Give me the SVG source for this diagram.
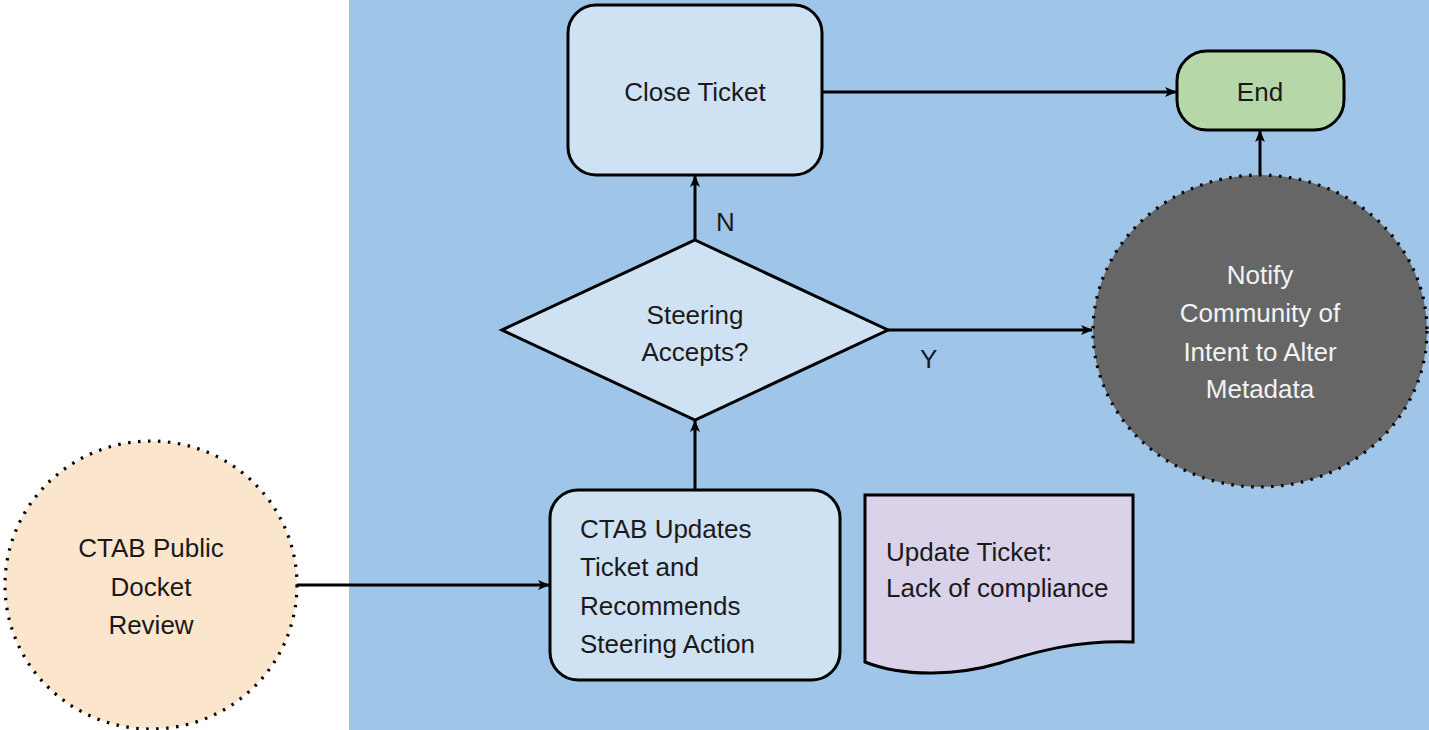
<svg xmlns="http://www.w3.org/2000/svg" width="1429" height="730" viewBox="0 0 1429 730">
<style>
.t{font-family:"Liberation Sans",Arial,sans-serif;font-size:26px;fill:#1a1a1a}
.c{text-anchor:middle}
.w{fill:#f3f3f3}
.box{fill:#cfe2f3;stroke:#000;stroke-width:3}
.dot{stroke:#000;stroke-width:3.2;stroke-dasharray:2.5 7.5;stroke-linecap:butt}
.edge{fill:none;stroke:#000;stroke-width:3;marker-end:url(#ah)}
</style>
<defs>
<marker id="ah" viewBox="0 0 12 10" refX="11" refY="5" markerWidth="12" markerHeight="10" markerUnits="userSpaceOnUse" orient="auto">
<path d="M0,0 L12,5 L0,10 L3,5 Z" fill="#000"/>
</marker>
</defs>
<rect x="0" y="0" width="1429" height="730" fill="#fff"/>
<rect x="349" y="0" width="1080" height="730" fill="#9fc5e8"/>
<g id="connectors">
<path class="edge" d="M297,585 H549"/>
<path class="edge" d="M695,490 V421"/>
<path class="edge" d="M695,240 V176"/>
<path class="edge" d="M822,92 H1176"/>
<path class="edge" d="M888,330 H1092"/>
<path class="edge" d="M1260,175 V131"/>
<text class="t" x="716" y="231" font-size="24">N</text>
<text class="t" x="920" y="368" font-size="24">Y</text>
</g>
<g id="docket">
<ellipse cx="151" cy="585" rx="146" ry="144" fill="#fce5cd" class="dot"/>
<text class="t c" x="151" y="557">CTAB Public</text>
<text class="t c" x="151" y="596">Docket</text>
<text class="t c" x="151" y="634">Review</text>
</g>
<g id="updates">
<rect class="box" x="550" y="490" width="290" height="190" rx="28"/>
<text class="t" x="580" y="538">CTAB Updates</text>
<text class="t" x="580" y="576">Ticket and</text>
<text class="t" x="580" y="615">Recommends</text>
<text class="t" x="580" y="653">Steering Action</text>
</g>
<g id="decision">
<polygon class="box" points="695,240 888,330 695,420 502,330"/>
<text class="t c" x="695" y="324">Steering</text>
<text class="t c" x="695" y="361">Accepts?</text>
</g>
<g id="close">
<rect class="box" x="568" y="5" width="254" height="170" rx="28"/>
<text class="t c" x="695" y="101">Close Ticket</text>
</g>
<g id="end">
<rect x="1177" y="51" width="167" height="79" rx="30" fill="#b6d7a8" stroke="#000" stroke-width="3"/>
<text class="t c" x="1260" y="101">End</text>
</g>
<g id="notify">
<ellipse cx="1260" cy="331" rx="167" ry="156" fill="#666666" class="dot"/>
<text class="t c w" x="1260" y="284">Notify</text>
<text class="t c w" x="1260" y="322">Community of</text>
<text class="t c w" x="1260" y="361">Intent to Alter</text>
<text class="t c w" x="1260" y="398">Metadata</text>
</g>
<g id="doc">
<path d="M865,495 H1133 V642 C1075,640 1035,652 1000,663 C960,675 905,678 865,662 Z" fill="#d9d2e9" stroke="#000" stroke-width="3"/>
<text class="t" x="886" y="561">Update Ticket:</text>
<text class="t" x="886" y="597">Lack of compliance</text>
</g>
</svg>
